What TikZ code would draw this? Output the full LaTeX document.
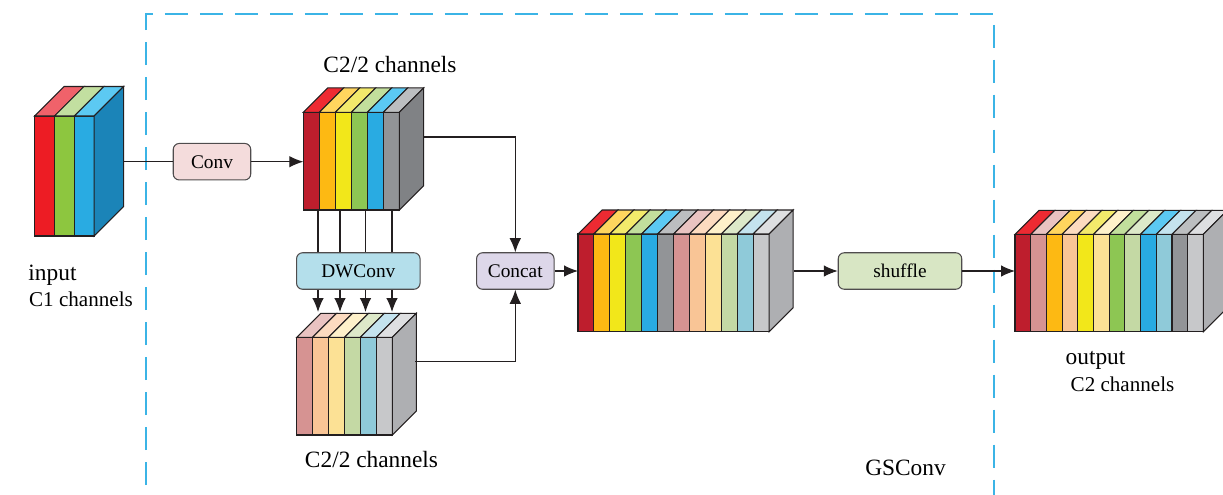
\documentclass[tikz,border=0pt]{standalone}
\usepackage{fontspec}
\setmainfont{Liberation Serif}
\usetikzlibrary{arrows.meta}

\definecolor{inkline}{HTML}{231F20}
\definecolor{dashblue}{HTML}{3BB4E6}
% strong feature colours: front / top
\definecolor{redF}{HTML}{BE1E2D}\definecolor{redT}{HTML}{ED2A32}
\definecolor{orgF}{HTML}{FDB913}\definecolor{orgT}{HTML}{FFD55E}
\definecolor{ylwF}{HTML}{F2E71A}\definecolor{ylwT}{HTML}{F3EA6B}
\definecolor{grnF}{HTML}{8DC653}\definecolor{grnT}{HTML}{C2DF9C}
\definecolor{bluF}{HTML}{29ABE2}\definecolor{bluT}{HTML}{5BC9F3}
\definecolor{gryF}{HTML}{929497}\definecolor{gryT}{HTML}{BCBEC0}
% pale feature colours: front / top
\definecolor{pnkF}{HTML}{D69392}\definecolor{pnkT}{HTML}{E9C3C1}
\definecolor{pchF}{HTML}{F9C596}\definecolor{pchT}{HTML}{FCDBC0}
\definecolor{lylF}{HTML}{FCE195}\definecolor{lylT}{HTML}{FEF1CA}
\definecolor{lgrF}{HTML}{C4D9A4}\definecolor{lgrT}{HTML}{DDE9C9}
\definecolor{lblF}{HTML}{8FCAD9}\definecolor{lblT}{HTML}{C4E3EE}
\definecolor{lgyF}{HTML}{C7C8CA}\definecolor{lgyT}{HTML}{DEDFE1}
% input colours
\definecolor{inRedF}{HTML}{ED1C24}\definecolor{inRedT}{HTML}{F0626A}
\definecolor{inGrnF}{HTML}{8DC63F}\definecolor{inGrnT}{HTML}{C2DFA0}
\definecolor{inBluF}{HTML}{29ABE2}\definecolor{inBluT}{HTML}{5CC9F2}
% side faces
\definecolor{sideBlue}{HTML}{1B84B8}
\definecolor{sideDark}{HTML}{808285}
\definecolor{sideLight}{HTML}{AEAFB2}
% op boxes
\definecolor{convFill}{HTML}{F4DCDC}
\definecolor{dwFill}{HTML}{B4DFEB}
\definecolor{catFill}{HTML}{DDD7E9}
\definecolor{shufFill}{HTML}{D8E6C4}

% x, y, slab width, height, depth, slabs, side colour, front/top colours
\newcommand{\featmap}[8]{%
  \foreach \fc/\tc [count=\i from 0] in {#8} {
    \draw[blockline, fill=\fc] ({#1+\i*#3},#2) rectangle ++(#3,#4);
    \draw[blockline, fill=\tc] ({#1+\i*#3},#2) -- ++(#5,-#5) -- ++(#3,0) -- ++(-#5,#5) -- cycle;
  }
  \draw[blockline, fill=#7] ({#1+#6*#3},#2) -- ++(#5,-#5) -- ++(0,#4) -- ++(-#5,#5) -- cycle;
}

\tikzset{
  blockline/.style={draw=inkline, line width=0.6pt},
  wire/.style={draw=inkline, line width=0.6pt},
  arr/.style={wire, -{Latex[length=2.8mm,width=2.3mm]}},
  opbox/.style={draw=inkline!80, line width=0.6pt, rounded corners=1.2mm,
    minimum height=7.3mm, inner sep=0pt, font=\fontsize{11}{13}\selectfont},
  smallop/.style={opbox, minimum width=15.5mm},
  wideop/.style={opbox, minimum width=24.7mm},
  lbl/.style={font=\fontsize{13.3}{15}\selectfont, inner sep=0pt},
  chlbl/.style={font=\fontsize{12}{14}\selectfont, inner sep=0pt}
}

\begin{document}
\begin{tikzpicture}[x=0.02cm, y=-0.02cm]
	%%%%% START %%%%%
	\useasboundingbox (0,0) rectangle (1223,494);
	\clip (0,0) rectangle (1223,494);
	
	% GSConv frame
	\draw[dashblue, line width=0.8pt, dash pattern=on 0.46cm off 0.24cm] (146,520) -- (146,14) -- (994,14) -- (994,520);
	
	% input
	\featmap{34.7}{116}{19.8}{120}{29.5}{3}{sideBlue}{inRedF/inRedT, inGrnF/inGrnT, inBluF/inBluT}
	
	% C2/2 after conv
	\featmap{303.3}{112.3}{16}{97.7}{24.4}{6}{sideDark}{redF/redT, orgF/orgT, ylwF/ylwT, grnF/grnT, bluF/bluT, gryF/gryT}
	
	% C2/2 after dwconv
	\featmap{296.7}{337.3}{15.93}{97.7}{24}{6}{sideLight}{pnkF/pnkT, pchF/pchT, lylF/lylT, lgrF/lgrT, lblF/lblT, lgyF/lgyT}
	
	% concat result
	\featmap{578}{234}{15.92}{97.7}{24}{12}{sideLight}{redF/redT, orgF/orgT, ylwF/ylwT, grnF/grnT, bluF/bluT, gryF/gryT, pnkF/pnkT, pchF/pchT, lylF/lylT, lgrF/lgrT, lblF/lblT, lgyF/lgyT}
	
	% shuffled output
	\featmap{1015}{234.3}{15.7}{97.4}{24}{12}{sideLight}{redF/redT, pnkF/pnkT, orgF/orgT, pchF/pchT, ylwF/ylwT, lylF/lylT, grnF/grnT, lgrF/lgrT, bluF/bluT, lblF/lblT, gryF/gryT, lgyF/lgyT}
	
	% ops
	\node[smallop, fill=convFill] (conv) at (212,161.7) {Conv};
	\node[wideop, fill=dwFill] (dw) at (358.3,271) {DWConv};
	\node[smallop, fill=catFill] (concat) at (515.3,271) {Concat};
	\node[wideop, fill=shufFill] (shuffle) at (900,271) {shuffle};
	
	% ports on the blocks
	\coordinate (inR) at (123,161.7);
	\coordinate (c1L) at (303.3,161.7);
	\coordinate (c1R) at (423.7,137);
	\coordinate (c2R) at (415,361.7);
	\coordinate (catL) at (578,271);
	\coordinate (catR) at (794,271);
	\coordinate (outL) at (1015,271);
	
	\draw[wire] (inR) -- (conv);
	\draw[arr] (conv) -- (c1L);
	\foreach \x in {318,340,365.5,392} {
		\draw[wire] (\x,210) -- (dw.north -| \x,0);
		\draw[arr] (dw.south -| \x,0) -- (\x,312);
	}
	\draw[arr] (c1R) -| (concat);
	\draw[arr] (c2R) -| (concat);
	\draw[arr] (concat) -- (catL);
	\draw[arr] (catR) -- (shuffle);
	\draw[arr] (shuffle) -- (outL);
	
	% labels
	\node[lbl] (c1lbl) at (390,65) {C2/2 channels};
	\node[lbl] (c2lbl) at (371.5,459) {C2/2 channels};
	\node[lbl] (inlbl) at (52.5,275) {input};
	\node[chlbl] (inch) at (81,299) {C1 channels};
	\node[lbl] (outlbl) at (1095.5,360) {output};
	\node[chlbl] (outch) at (1122.5,384) {C2 channels};
	\node[lbl] (gslbl) at (905.5,468) {GSConv};
	%%%%% END %%%%%
\end{tikzpicture}
\end{document}
